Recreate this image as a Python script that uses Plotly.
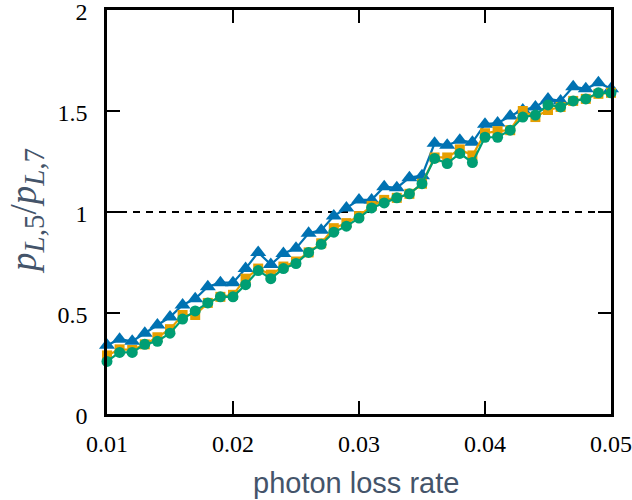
import plotly.graph_objects as go

x_rate = [round(0.010 + 0.001 * i, 3) for i in range(41)]

ratio_tri = [0.34, 0.37, 0.36, 0.40, 0.44, 0.48, 0.54, 0.57, 0.63, 0.65,
             0.65, 0.72, 0.80, 0.74, 0.795, 0.82, 0.895, 0.91, 0.98, 1.02,
             1.06, 1.06, 1.125, 1.12, 1.17, 1.18, 1.34, 1.33, 1.355, 1.345,
             1.435, 1.44, 1.475, 1.505, 1.52, 1.56, 1.55, 1.62, 1.61, 1.64,
             1.61]
ratio_sq = [0.29, 0.32, 0.317, 0.345, 0.38, 0.42, 0.49, 0.49, 0.55, 0.58,
            0.59, 0.67, 0.72, 0.69, 0.73, 0.755, 0.80, 0.845, 0.92, 0.945,
            0.98, 1.03, 1.06, 1.07, 1.09, 1.14, 1.27, 1.27, 1.31, 1.28,
            1.39, 1.40, 1.405, 1.50, 1.47, 1.505, 1.52, 1.55, 1.56, 1.585,
            1.59]
ratio_circ = [0.26, 0.305, 0.305, 0.345, 0.36, 0.40, 0.47, 0.51, 0.55, 0.58,
              0.58, 0.64, 0.71, 0.67, 0.72, 0.745, 0.80, 0.84, 0.90, 0.93,
              0.97, 1.02, 1.045, 1.07, 1.09, 1.14, 1.265, 1.24, 1.29, 1.245,
              1.37, 1.37, 1.405, 1.47, 1.48, 1.53, 1.52, 1.55, 1.56, 1.59,
              1.59]
ref_level = [1.0, 1.0]
ref_x = [0.01, 0.05]

x_ticks = [0.01, 0.02, 0.03, 0.04, 0.05]
x_tick_text = ["0.01", "0.02", "0.03", "0.04", "0.05"]
y_ticks = [0, 0.5, 1, 1.5, 2]
y_tick_text = ["0", "0.5", "1", "1.5", "2"]

x_title = "photon loss rate"
sub = '<span style="font-size:29px">'
y_title = ('<i>p</i><sub>' + sub + '<i>L</i>,5</span></sub>/<i>p</i><sub>' + sub +
           '<i>L</i>,7</span></sub>')

fig = go.Figure()
fig.add_trace(go.Scatter(x=ref_x, y=ref_level, mode="lines",
                         line=dict(color="black", width=2, dash="7px,6px"),
                         showlegend=False, hoverinfo="skip"))
fig.add_trace(go.Scatter(x=x_rate, y=ratio_tri, mode="lines+markers",
                         line=dict(color="#0072B2", width=2.2),
                         marker=dict(symbol="triangle-up", size=14, color="#0072B2"),
                         showlegend=False, cliponaxis=False))
fig.add_trace(go.Scatter(x=x_rate, y=ratio_sq, mode="lines+markers",
                         line=dict(color="#E69F00", width=2.2),
                         marker=dict(symbol="square", size=10, color="#E69F00"),
                         showlegend=False, cliponaxis=False))
fig.add_trace(go.Scatter(x=x_rate, y=ratio_circ, mode="lines+markers",
                         line=dict(color="#009E73", width=2.2),
                         marker=dict(symbol="circle", size=11, color="#009E73"),
                         showlegend=False, cliponaxis=False))

axis_common = dict(showgrid=False, zeroline=False, showline=True, linecolor="black",
                   linewidth=2.5, mirror="ticks", ticks="inside", ticklen=13,
                   tickwidth=2, tickcolor="black", automargin=False,
                   ticklabeloverflow="allow",
                   tickfont=dict(family="Liberation Serif", size=24, color="black"))

fig.update_xaxes(range=[0.01, 0.05], tickvals=x_ticks, ticktext=x_tick_text,
                 ticklabelstandoff=6, **axis_common)
fig.update_yaxes(range=[0, 2], tickvals=y_ticks, ticktext=y_tick_text,
                 ticklabelstandoff=12, ticklabelshift=2, **axis_common)

fig.add_annotation(text=x_title, xref="paper", yref="paper",
                   x=(356 - 107) / 504, y=-(483 - 414) / 404,
                   xanchor="center", yanchor="middle", showarrow=False,
                   font=dict(family="Liberation Sans", size=29, color="#44546A"))
fig.add_annotation(text=y_title, xref="paper", yref="paper",
                   x=(26 - 107) / 504, y=(414 - 211) / 404, textangle=-90,
                   xanchor="center", yanchor="middle", showarrow=False,
                   font=dict(family="Liberation Serif", size=37, color="#44546A"))

fig.update_layout(width=632, height=500, plot_bgcolor="white", paper_bgcolor="white",
                  margin=dict(l=107, r=21, t=10, b=86))

fig.write_html("out.html", config={"displayModeBar": False},
               post_script="document.body.style.margin='0';"
                           "document.body.style.overflow='hidden';")
